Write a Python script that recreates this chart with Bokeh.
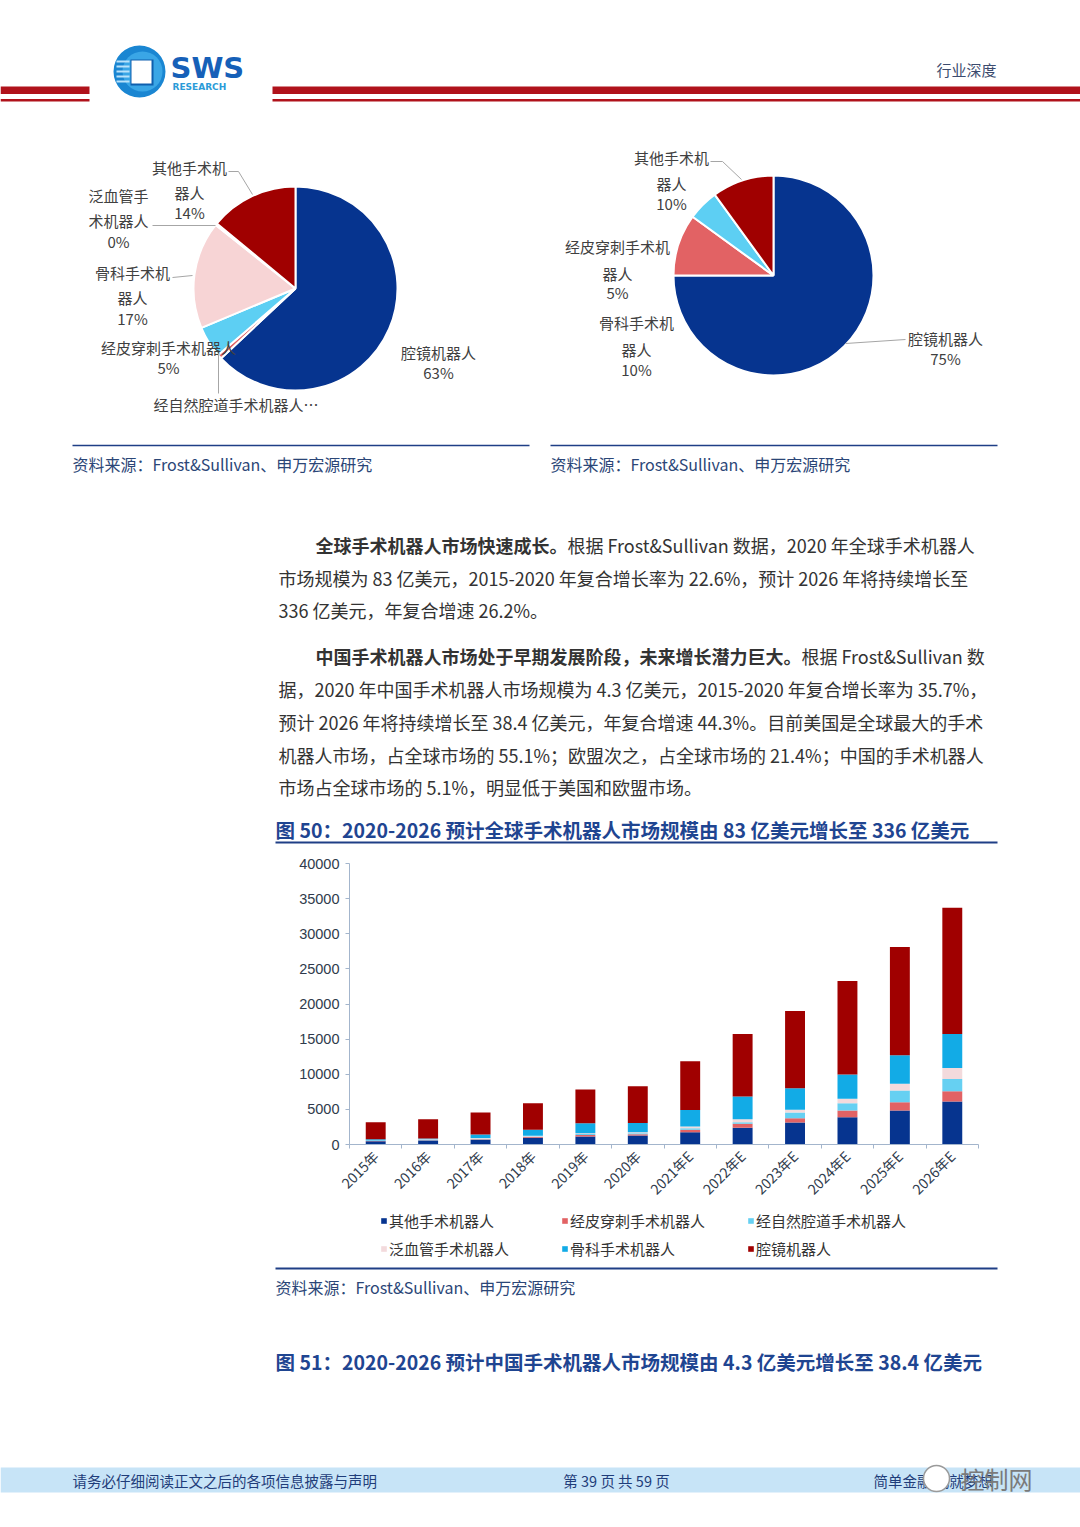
import numpy as np
from math import pi
from bokeh.plotting import figure
from bokeh.models import (Range1d, ColumnDataSource, LinearAxis, FixedTicker, Legend, LegendItem,
                          Spacer, SingleIntervalTicker, NumeralTickFormatter)
from bokeh.layouts import column, row
from bokeh.core.properties import value
from bokeh.embed import file_html
from bokeh.resources import INLINE

CJK = "Noto Sans CJK SC"

# ---------------- data ----------------
years = ["2015年", "2016年", "2017年", "2018年", "2019年", "2020年",
         "2021年E", "2022年E", "2023年E", "2024年E", "2025年E", "2026年E"]
series_names = ["其他手术机器人", "经皮穿刺手术机器人", "经自然腔道手术机器人",
                "泛血管手术机器人", "骨科手术机器人", "腔镜机器人"]
other = [470, 560, 660, 950, 1140, 1280, 1750, 2370, 3130, 3890, 4840, 6120]
percutaneous = [30, 60, 90, 100, 200, 170, 350, 570, 620, 950, 1190, 1470]
natural_orifice = [30, 40, 90, 90, 150, 150, 200, 240, 810, 1040, 1660, 1750]
vascular = [30, 90, 100, 90, 120, 140, 250, 430, 380, 620, 950, 1560]
orthopedic = [200, 100, 480, 860, 1420, 1330, 2370, 3220, 3080, 3460, 4080, 4840]
laparoscopic = [2420, 2750, 3130, 3790, 4790, 5230, 6920, 8910, 11000, 13320, 15400, 17970]
y_ticks_interval = 5000
y_max = 40000

left_pie_names = ["腔镜机器人", "经自然腔道手术机器人", "经皮穿刺手术机器人",
                  "骨科手术机器人", "泛血管手术机器人", "其他手术机器人"]
left_pie_values = [63, 0.7, 5, 17, 0.3, 14]
right_pie_names = ["腔镜机器人", "骨科手术机器人", "经皮穿刺手术机器人", "其他手术机器人"]
right_pie_values = [75, 10, 5, 10]

# ---------------- styles ----------------
NAVY = "#06348f"
SALMON = "#e26264"
LCYAN = "#66d0f2"
PALE = "#f3dadc"
BLUE = "#12abe6"
DRED = "#a00000"
bar_colors = [NAVY, SALMON, LCYAN, PALE, BLUE, DRED]
left_pie_colors = [NAVY, SALMON, "#5dcff3", "#f7d4d5", "#f4e4e4", DRED]
right_pie_colors = [NAVY, SALMON, "#5dcff3", DRED]
RED = "#b0121b"
DBLUE = "#1f3f86"
SRC = "#2b4677"
BODY = "#333333"
LBL = "#404040"
LEAD = "#a6a6a6"
AX = "#a3b5cc"
PAGE_W = 1080
BAR_W = 722
BAR_LEFT = 275


def page_fig(y0, y1):
    p = figure(width=PAGE_W, height=int(y1 - y0), x_range=Range1d(0, PAGE_W),
               y_range=Range1d(-y1, -y0), output_backend="svg", toolbar_location=None,
               min_border=0, x_axis_location=None, y_axis_location=None)
    p.outline_line_color = None
    p.grid.visible = False
    p.background_fill_color = "white"
    return p


def txt(p, x, y, s, size, color, bold=False, align="left", font=CJK):
    p.text(x=[x], y=[-y], text=[s], text_font=value(font), text_font_size=f"{size}px",
           text_color=color, text_font_style="bold" if bold else "normal",
           text_align=align, text_baseline="middle")


def band(p, x0, x1, y0, y1, color):
    p.quad(left=[x0], right=[x1], top=[-y0], bottom=[-y1], fill_color=color, line_color=None)


def seg(p, xs, ys, color, w=1):
    p.line(x=xs, y=[-v for v in ys], line_color=color, line_width=w)


def pie(p, cx, cy, r, vals, colors):
    v = np.array(vals, dtype=float)
    frac = v / v.sum()
    c = np.concatenate([[0.0], np.cumsum(frac)])
    src = ColumnDataSource(dict(start=pi / 2 - 2 * pi * c[:-1], end=pi / 2 - 2 * pi * c[1:],
                                color=colors))
    p.wedge(x=cx, y=-cy, radius=r, start_angle="start", end_angle="end", direction="clock",
            fill_color="color", line_color="white", line_width=2, source=src)


# ================= top page part =================
top = page_fig(0, 850)
band(top, 0, 89, 86, 93.5, RED)
band(top, 0, 89, 98.5, 101, RED)
band(top, 272, PAGE_W, 86, 93.5, RED)
band(top, 272, PAGE_W, 98.5, 101, RED)
# logo
top.circle(x=[139], y=[-71], radius=26, fill_color="#1a86d2", line_color=None)
top.circle(x=[142], y=[-71], radius=20, fill_color="#3aa6e6", line_color=None)
band(top, 130, 153, 59, 85, "#0e5fae")
band(top, 131, 151, 60, 83, "white")
for yy in [61, 66, 71, 76, 81]:
    seg(top, [116, 129], [yy, yy], "#b9e2fa", 2)
txt(top, 170, 67, "SWS", 29, "#1660b8", bold=True, font="DejaVu Sans")
txt(top, 172, 86, "RESEARCH", 9, "#2b9bd8", bold=True, font="DejaVu Sans")
txt(top, 936, 69, "行业深度", 15, "#3c4b6e")

# pies
pie(top, 295, 288, 102, left_pie_values, left_pie_colors)
pie(top, 773, 275, 100, right_pie_values, right_pie_colors)

# left pie labels
for s, x, y in [("其他手术机", 189, 167), ("器人", 189, 192), ("14%", 189, 212),
                ("泛血管手", 118, 195), ("术机器人", 118, 220), ("0%", 118, 241),
                ("骨科手术机", 132, 272), ("器人", 132, 297), ("17%", 132, 318),
                ("经皮穿刺手术机器人", 168, 347), ("5%", 168, 367),
                ("腔镜机器人", 438, 352), ("63%", 438, 372)]:
    txt(top, x, y, s, 15, LBL, align="center")
txt(top, 153, 404, "经自然腔道手术机器人…", 15, LBL)
seg(top, [228, 238, 252], [171, 171, 194], LEAD)
seg(top, [152, 215], [225, 225], LEAD)
seg(top, [172, 192], [277, 275], LEAD)
seg(top, [218, 218], [353, 393], LEAD)

# right pie labels
for s, x, y in [("其他手术机", 671, 157), ("器人", 671, 183), ("10%", 671, 203),
                ("经皮穿刺手术机", 617, 246), ("器人", 617, 273), ("5%", 617, 292),
                ("骨科手术机", 636, 322), ("器人", 636, 349), ("10%", 636, 369),
                ("腔镜机器人", 945, 338), ("75%", 945, 358)]:
    txt(top, x, y, s, 15, LBL, align="center")
seg(top, [710, 722, 741], [161, 161, 179], LEAD)
seg(top, [845, 905], [343, 339], LEAD)

# sources under pies
seg(top, [72, 529], [445, 445], DBLUE, 1.5)
seg(top, [550, 997], [445, 445], DBLUE, 1.5)
txt(top, 72, 463, "资料来源：Frost&Sullivan、申万宏源研究", 16, SRC)
txt(top, 550, 463, "资料来源：Frost&Sullivan、申万宏源研究", 16, SRC)

# body text
txt(top, 315, 544, "全球手术机器人市场快速成长。", 18, BODY, bold=True)
txt(top, 567, 544, "根据 Frost&Sullivan 数据，2020 年全球手术机器人", 18, BODY)
txt(top, 278, 577, "市场规模为 83 亿美元，2015-2020 年复合增长率为 22.6%，预计 2026 年将持续增长至", 18, BODY)
txt(top, 278, 609, "336 亿美元，年复合增速 26.2%。", 18, BODY)
txt(top, 315, 655, "中国手术机器人市场处于早期发展阶段，未来增长潜力巨大。", 18, BODY, bold=True)
txt(top, 801, 655, "根据 Frost&Sullivan 数", 18, BODY)
txt(top, 278, 688, "据，2020 年中国手术机器人市场规模为 4.3 亿美元，2015-2020 年复合增长率为 35.7%，", 18, BODY)
txt(top, 278, 721, "预计 2026 年将持续增长至 38.4 亿美元，年复合增速 44.3%。目前美国是全球最大的手术", 18, BODY)
txt(top, 278, 754, "机器人市场，占全球市场的 55.1%；欧盟次之，占全球市场的 21.4%；中国的手术机器人", 18, BODY)
txt(top, 278, 786, "市场占全球市场的 5.1%，明显低于美国和欧盟市场。", 18, BODY)

txt(top, 275, 829, "图 50：2020-2026 预计全球手术机器人市场规模由 83 亿美元增长至 336 亿美元", 19.5, "#1f4591", bold=True)
seg(top, [275, 997], [842, 842], DBLUE, 2)

# ================= bar chart =================
xs = list(range(len(years)))
keys = ["other", "percutaneous", "natural_orifice", "vascular", "orthopedic", "laparoscopic"]
src = ColumnDataSource(dict(x=xs, other=other, percutaneous=percutaneous,
                            natural_orifice=natural_orifice, vascular=vascular,
                            orthopedic=orthopedic, laparoscopic=laparoscopic))
BAR_TOP, BAR_BOTTOM = 850, 1208
bar = figure(width=BAR_W, height=BAR_BOTTOM - BAR_TOP, x_range=Range1d(-0.5, len(years) - 0.5),
             y_range=Range1d(0, y_max), output_backend="svg", toolbar_location=None,
             min_border_left=74, min_border_right=19, min_border_top=13,
             min_border_bottom=BAR_BOTTOM - BAR_TOP - 13 - 281,
             x_axis_location=None, y_axis_location=None)
bar.outline_line_color = None
bar.grid.visible = False
rs = bar.vbar_stack(keys, x="x", width=0.38, fill_color=bar_colors, line_color=None, source=src)

yaxis = LinearAxis(ticker=SingleIntervalTicker(interval=y_ticks_interval),
                   formatter=NumeralTickFormatter(format="0"),
                   axis_line_color=AX, major_tick_line_color=AX, major_tick_out=4, major_tick_in=0,
                   minor_tick_line_color=None, major_label_text_font="Liberation Sans",
                   major_label_text_font_size="14.5px", major_label_text_color="#2f3b4c",
                   major_label_standoff=6)
bar.add_layout(yaxis, "left")

xaxis = LinearAxis(ticker=FixedTicker(ticks=xs, minor_ticks=[i - 0.5 for i in range(len(years) + 1)]),
                   major_label_overrides={i: years[i] for i in xs},
                   axis_line_color=AX, major_tick_line_color=None, major_tick_out=0, major_tick_in=0,
                   minor_tick_line_color=AX, minor_tick_out=4, minor_tick_in=0,
                   major_label_orientation=pi / 4, major_label_text_font=CJK,
                   major_label_text_font_size="14px", major_label_text_color="#2f3b4c",
                   major_label_standoff=5)
bar.add_layout(xaxis, "below")

# ---- legend strip (its own small plot holding the same stacked series, out of view)
LEG_TOP, LEG_BOTTOM = BAR_BOTTOM, 1262
leg = figure(width=BAR_W, height=LEG_BOTTOM - LEG_TOP, x_range=Range1d(-0.5, len(years) - 0.5),
             y_range=Range1d(2 * y_max, 3 * y_max), output_backend="svg", toolbar_location=None,
             min_border=0, x_axis_location=None, y_axis_location=None)
leg.outline_line_color = None
leg.grid.visible = False
lrs = leg.vbar_stack(keys, x="x", width=0.38, fill_color=bar_colors, line_color=None, source=src)
legend_cols_px = [105, 286, 472]
for j, lx in enumerate(legend_cols_px):
    items = [LegendItem(label=series_names[k], renderers=[lrs[k]]) for k in (j, j + 3)]
    lg = Legend(items=items, location=(lx, 3), orientation="vertical",
                glyph_width=7, glyph_height=7, label_standoff=2,
                spacing=7, padding=0, margin=0, border_line_color=None,
                background_fill_alpha=0, label_text_font=CJK, label_text_font_size="15px",
                label_text_color=BODY, label_height=20)
    leg.add_layout(lg)

# ================= bottom page part =================
bottom = page_fig(1262, 1520)
seg(bottom, [275, 997], [1268, 1268], DBLUE, 2)
txt(bottom, 275, 1286, "资料来源：Frost&Sullivan、申万宏源研究", 16, SRC)
txt(bottom, 275, 1361, "图 51：2020-2026 预计中国手术机器人市场规模由 4.3 亿美元增长至 38.4 亿美元", 19.5, "#1f4591", bold=True)
band(bottom, 0, PAGE_W, 1467, 1492, "#c7e4f7")
txt(bottom, 72, 1480, "请务必仔细阅读正文之后的各项信息披露与声明", 14.5, "#1f3d7a")
txt(bottom, 616, 1480, "第 39 页 共 59 页", 14.5, "#1f3d7a", align="center")
txt(bottom, 873, 1480, "简单金融 成就梦想", 14.5, "#1f3d7a")
bottom.circle(x=[936], y=[-1478], radius=13, fill_color="white", line_color="#9a9a9a", line_width=1.5)
txt(bottom, 960, 1478, "控制网", 24, "#7a7a7a")

RIGHT_PAD = PAGE_W - BAR_LEFT - BAR_W
layout = column(top,
                row(Spacer(width=BAR_LEFT, height=BAR_BOTTOM - BAR_TOP), bar,
                    Spacer(width=RIGHT_PAD, height=BAR_BOTTOM - BAR_TOP)),
                row(Spacer(width=BAR_LEFT, height=LEG_BOTTOM - LEG_TOP), leg,
                    Spacer(width=RIGHT_PAD, height=LEG_BOTTOM - LEG_TOP)),
                bottom)

open("out.html", "w").write(file_html(layout, INLINE))
